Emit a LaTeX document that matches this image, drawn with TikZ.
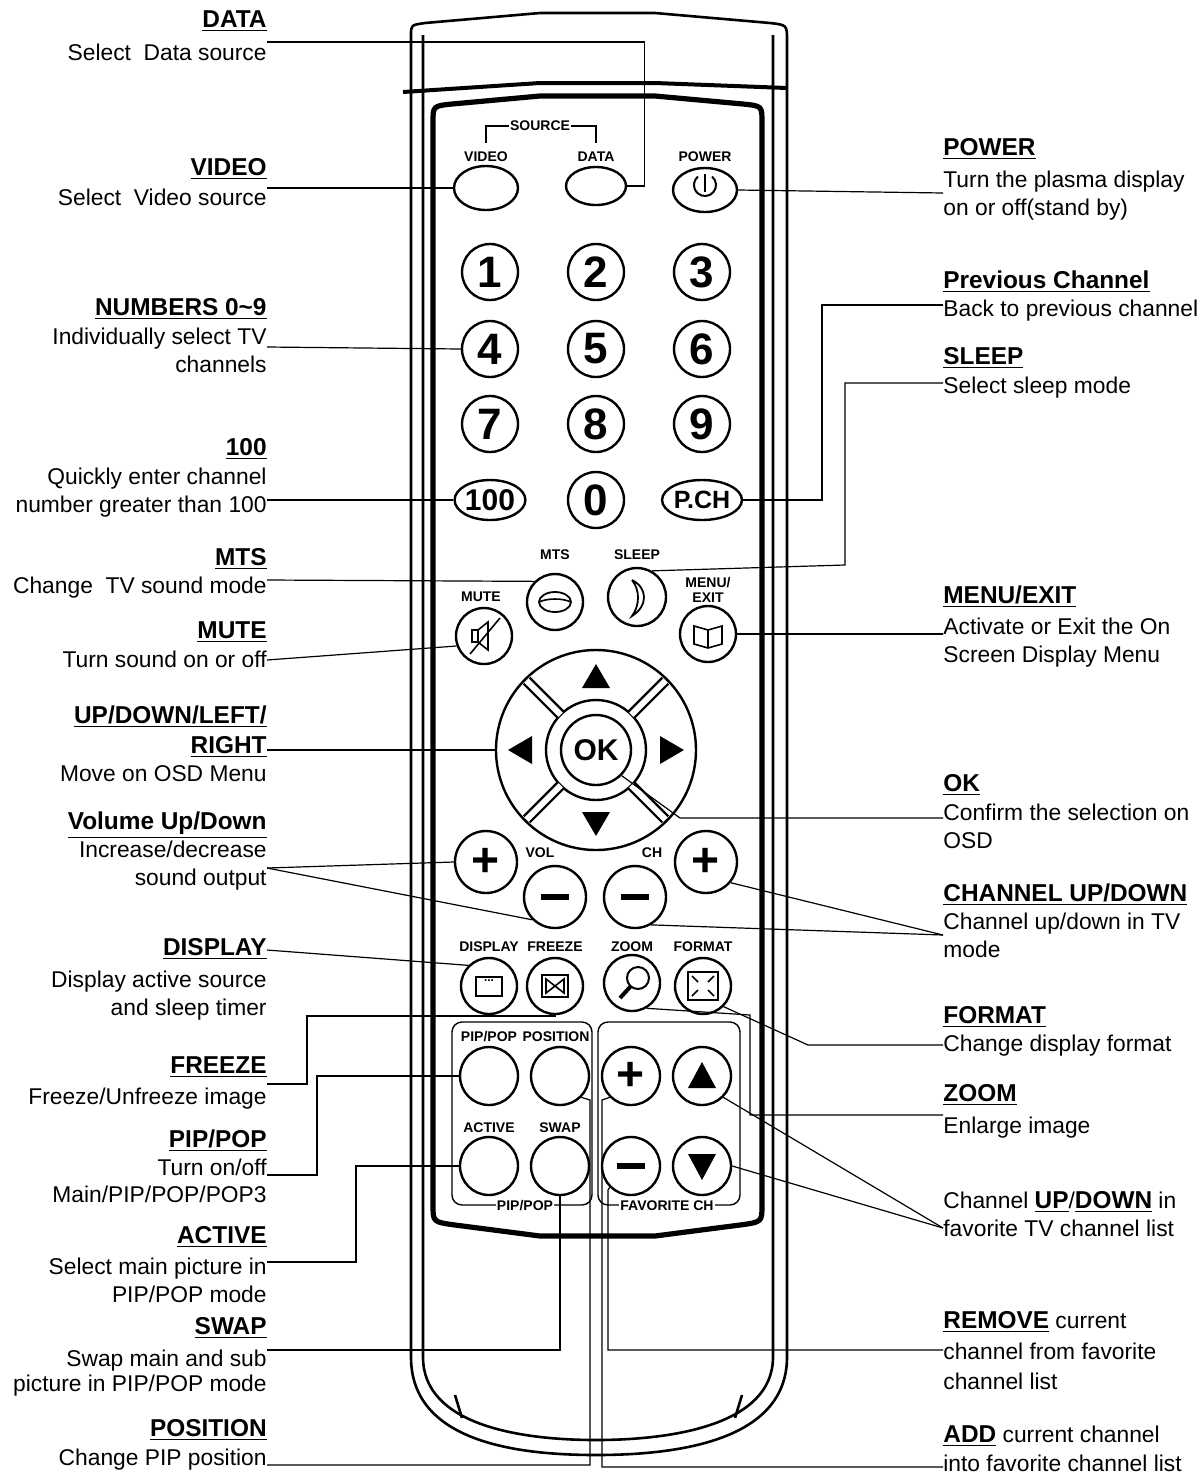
\documentclass[tikz,border=0pt]{standalone}
\usepackage{fontspec}
\setmainfont{Liberation Sans}
\usetikzlibrary{shapes.geometric, calc}

\tikzset{
  lbl/.style = {inner sep = 0pt, font = \fontsize{11.4}{12}\selectfont},
  key/.style = {draw, circle, line width = 1.2pt, minimum size = 28pt, inner sep = 0pt},
  oval/.style = {draw, ellipse, line width = 1.2pt, minimum width = 32pt, minimum height = 22pt, inner sep = 0pt},
  numkey/.style = {key, font = \fontsize{22}{22}\selectfont\bfseries},
  tag/.style = {inner sep = 0.5pt, font = \fontsize{7}{7.5}\selectfont\bfseries, align = center},
  call/.style = {line width = 0.6pt},
  body/.style = {line width = 1.3pt},
}
\newcommand{\ttl}[1]{\underline{\textbf{\fontsize{12.2}{12.5}\selectfont #1}}}
\newcommand{\lt}[3]{\node[lbl, anchor = mid east] (#1) at (267,#2) {#3};}
\newcommand{\rt}[3]{\node[lbl, anchor = mid west] (#1) at (943,#2) {#3};}

\begin{document}
\begin{tikzpicture}[x = 0.5pt, y = -0.5pt]
        \useasboundingbox (0,0) rectangle (1203,1479);

        % remote body
        \draw[body] (411,1357) -- (411,35) .. controls (411,25) .. (425,23) -- (540,13) -- (655,13) -- (770,23) .. controls (787,25) .. (787,40) -- (787,1357) .. controls (787,1440) and (680,1455) .. (596,1455) .. controls (512,1455) and (411,1440) .. (411,1357);
        \draw[body] (423,35) -- (423,1357) .. controls (423,1425) and (520,1440) .. (596,1440) .. controls (672,1440) and (773,1425) .. (773,1357) -- (773,35);
        \draw[line width = 2pt] (403,92) -- (540,83) -- (655,83) -- (787,88);
        \draw[line width = 2.6pt] (433,1205) -- (433,122) .. controls (433,106) .. (452,104) -- (540,96) -- (655,96) -- (743,104) .. controls (762,106) .. (762,122) -- (762,1205) .. controls (762,1222) .. (740,1225) -- (655,1236) -- (540,1236) -- (455,1225) .. controls (433,1222) .. (433,1205) -- cycle;
        \draw[body] (455,1395) -- (462,1418);
        \draw[body] (742,1395) -- (735,1418);

        % source keys
        \node[tag] (srct) at (540,126) {SOURCE};
        \draw[line width = 0.6pt] (srct.west) -| (486,143);
        \draw[line width = 0.6pt] (srct.east) -| (596,143);
        \node[oval] (video) at (486,188) {};
        \node[oval, minimum width = 30pt, minimum height = 19pt] (data) at (596,186) {};
        \node[oval] (power) at (705,190) {};
        \node[tag] at (486,157) {VIDEO};
        \node[tag] at (596,157) {DATA};
        \node[tag] at (705,157) {POWER};
        \draw[line width = 1pt] (705,185) ++(50:5.5pt) arc[start angle = 50, end angle = -230, radius = 5.5pt];
        \draw[line width = 1pt] (705,174) -- (705,192);

        % number keys
        \foreach \d/\x/\y in {1/490/272, 2/596/272, 3/702/272, 4/490/349, 5/596/349, 6/702/349, 7/490/424, 8/596/424, 9/702/424, 0/596/500}
          \node[numkey] (n\d) at (\x,\y) {\d};
        \node[oval, minimum height = 20pt, font = \fontsize{15}{15}\selectfont\bfseries] (hundred) at (490,500) {100};
        \node[oval, minimum height = 20pt, font = \fontsize{12.5}{13}\selectfont\bfseries] (pch) at (702,500) {P.CH};

        % mts, sleep, mute, menu
        \node[key] (mts) at (555,602) {};
        \node[key, minimum size = 29pt] (sleep) at (637,597) {};
        \node[key] (mute) at (484,636) {};
        \node[key] (menu) at (708,634) {};
        \node[tag] at (555,555) {MTS};
        \node[tag] at (637,555) {SLEEP};
        \node[tag] at (481,597) {MUTE};
        \node[tag] at (708,590) {MENU/\\EXIT};
        \draw[line width = 0.9pt] (555,602) ellipse[x radius = 8pt, y radius = 5pt];
        \draw[line width = 0.8pt] (539,602) .. controls (548,598) and (562,598) .. (571,602);
        \draw[line width = 0.9pt] (632,580) .. controls (648,588) and (648,606) .. (632,616) .. controls (640,605) and (640,590) .. (632,580);
        \draw[line width = 0.8pt] (472,630) rectangle (478,642);
        \draw[line width = 0.8pt] (478,630) -- (488,622) -- (488,650) -- (478,642);
        \draw[line width = 0.8pt] (470,654) -- (500,618);
        \draw[line width = 0.8pt] (694,626) -- (708,630) -- (722,626) -- (722,644) -- (708,648) -- (694,644) -- cycle;
        \draw[line width = 0.8pt] (708,630) -- (708,648);

        % direction pad
        \node[key, minimum size = 100pt] (pad) at (596,750) {};
        \draw[line width = 1.2pt] (pad.center) circle[radius = 25pt];
        \foreach \a in {45, 135, 225, 315}
          \draw[line width = 1.2pt, double, double distance = 3pt] (pad.center) ++(\a:25pt) -- ++(\a:24pt);
        \node[key, minimum size = 35pt, font = \fontsize{15}{15}\selectfont\bfseries] (ok) at (596,750) {OK};
        \fill (582,688) -- (610,688) -- (596,664) -- cycle;
        \fill (582,812) -- (610,812) -- (596,836) -- cycle;
        \fill (532,736) -- (532,764) -- (508,750) -- cycle;
        \fill (660,736) -- (660,764) -- (684,750) -- cycle;

        % volume and channel keys
        \node[key, minimum size = 31pt, font = \fontsize{24}{24}\selectfont\bfseries] (volp) at (486,862) {+};
        \node[key, minimum size = 31pt] (volm) at (555,897) {\rule{14pt}{3.2pt}};
        \node[key, minimum size = 31pt] (chm) at (635,897) {\rule{14pt}{3.2pt}};
        \node[key, minimum size = 31pt, font = \fontsize{24}{24}\selectfont\bfseries] (chp) at (706,862) {+};
        \node[tag] at (540,853) {VOL};
        \node[tag] at (652,853) {CH};

        % display row
        \node[key] (disp) at (489,986) {};
        \node[key] (frz) at (555,986) {};
        \node[key] (zoom) at (632,983) {};
        \node[key] (fmt) at (703,986) {};
        \foreach \n/\x in {DISPLAY/489, FREEZE/555, ZOOM/632, FORMAT/703}
          \node[tag] at (\x,947) {\n};
        \draw[line width = 0.8pt] (476,977) rectangle (502,996);
        \node[inner sep = 0pt, font = \fontsize{6}{6}\selectfont\bfseries] at (489,981) {...};
        \draw[line width = 0.8pt] (542,975) rectangle (568,997);
        \draw[line width = 0.8pt] (546,979) -- (555,986) -- (546,993) -- cycle (564,979) -- (555,986) -- (564,993) -- cycle;
        \draw[line width = 1pt] (638,978) circle[radius = 5.5pt];
        \draw[line width = 2pt] (631,986) -- (620,998);
        \draw[line width = 0.8pt] (688,972) rectangle (718,1000);
        \draw[line width = 0.8pt] (692,976) -- (698,982) (714,976) -- (708,982) (692,996) -- (698,990) (714,996) -- (708,990);

        % lower groups
        \draw[line width = 0.7pt, rounded corners = 5pt] (452,1022) rectangle (592,1205);
        \draw[line width = 0.7pt, rounded corners = 5pt] (598,1022) rectangle (740,1205);
        \node[tag, fill = white] at (525,1206) {PIP/POP};
        \node[tag, fill = white] at (667,1206) {FAVORITE CH};
        \node[key, minimum size = 29pt] (pip) at (489,1076) {};
        \node[key, minimum size = 29pt] (pos) at (560,1076) {};
        \node[key, minimum size = 29pt] (act) at (489,1166) {};
        \node[key, minimum size = 29pt] (swap) at (560,1166) {};
        \node[key, minimum size = 29pt, font = \fontsize{24}{24}\selectfont\bfseries] (fadd) at (631,1076) {+};
        \node[key, minimum size = 29pt] (fup) at (702,1076) {};
        \node[key, minimum size = 29pt] (frem) at (631,1166) {\rule{14pt}{3.2pt}};
        \node[key, minimum size = 29pt] (fdn) at (702,1166) {};
        \node[tag] at (489,1037) {PIP/POP};
        \node[tag] at (556,1037) {POSITION};
        \node[tag] at (489,1128) {ACTIVE};
        \node[tag] at (560,1128) {SWAP};
        \fill (688,1088) -- (716,1088) -- (702,1062) -- cycle;
        \fill (688,1154) -- (716,1154) -- (702,1180) -- cycle;

        % left texts
        \lt{t1}{22}{\ttl{DATA}}
        \lt{t2}{55}{Select\ \ Data source}
        \lt{t3}{170}{\ttl{VIDEO}}
        \lt{t4}{200}{Select\ \ Video source}
        \lt{t5}{310}{\ttl{NUMBERS 0\textasciitilde9}}
        \lt{t6}{339}{Individually select TV}
        \lt{t7}{367}{channels}
        \lt{t8}{450}{\ttl{100}}
        \lt{t9}{479}{Quickly enter channel}
        \lt{t10}{507}{number greater than 100}
        \lt{t11}{560}{\ttl{MTS}}
        \lt{t12}{588}{Change\ \ TV sound mode}
        \lt{t13}{633}{\ttl{MUTE}}
        \lt{t14}{662}{Turn sound on or off}
        \lt{t15}{718}{\ttl{UP/DOWN/LEFT/}}
        \lt{t16}{748}{\ttl{RIGHT}}
        \lt{t17}{776}{Move on OSD Menu}
        \lt{t18}{824}{\ttl{Volume Up/Down}}
        \lt{t19}{852}{Increase/decrease}
        \lt{t20}{880}{sound output}
        \lt{t21}{950}{\ttl{DISPLAY}}
        \lt{t22}{982}{Display active source}
        \lt{t23}{1010}{and sleep timer}
        \lt{t24}{1068}{\ttl{FREEZE}}
        \lt{t25}{1099}{Freeze/Unfreeze image}
        \lt{t26}{1142}{\ttl{PIP/POP}}
        \lt{t27}{1170}{Turn on/off}
        \lt{t28}{1197}{Main/PIP/POP/POP3}
        \lt{t29}{1238}{\ttl{ACTIVE}}
        \lt{t30}{1269}{Select main picture in}
        \lt{t31}{1297}{PIP/POP mode}
        \lt{t32}{1329}{\ttl{SWAP}}
        \lt{t33}{1361}{Swap main and sub}
        \lt{t34}{1386}{picture in PIP/POP mode}
        \lt{t35}{1431}{\ttl{POSITION}}
        \lt{t36}{1460}{Change PIP position}

        % right texts
        \rt{r1}{150}{\ttl{POWER}}
        \rt{r2}{182}{Turn the plasma display}
        \rt{r3}{210}{on or off(stand by)}
        \rt{r4}{283}{\ttl{Previous Channel}}
        \rt{r5}{311}{Back to previous channel}
        \rt{r6}{359}{\ttl{SLEEP}}
        \rt{r7}{388}{Select sleep mode}
        \rt{r8}{598}{\ttl{MENU/EXIT}}
        \rt{r9}{629}{Activate or Exit the On}
        \rt{r10}{657}{Screen Display Menu}
        \rt{r11}{786}{\ttl{OK}}
        \rt{r12}{815}{Confirm the selection on}
        \rt{r13}{843}{OSD}
        \rt{r14}{896}{\ttl{CHANNEL UP/DOWN}}
        \rt{r15}{924}{Channel up/down in TV}
        \rt{r16}{952}{mode}
        \rt{r17}{1018}{\ttl{FORMAT}}
        \rt{r18}{1046}{Change display format}
        \rt{r19}{1096}{\ttl{ZOOM}}
        \rt{r20}{1128}{Enlarge image}
        \rt{r21}{1203}{Channel \ttl{UP}/\ttl{DOWN} in}
        \rt{r22}{1231}{favorite TV channel list}
        \rt{r23}{1323}{\ttl{REMOVE} current}
        \rt{r24}{1354}{channel from favorite}
        \rt{r25}{1384}{channel list}
        \rt{r26}{1437}{\ttl{ADD} current channel}
        \rt{r27}{1466}{into favorite channel list}

        % callout ends
        \foreach \n/\y in {cData/42, cVideo/188, cNum/347, cHun/500, cMts/580, cMute/660, cPad/750, cVol/868, cDisp/950, cFrz/1084, cPip/1175, cAct/1262, cSwap/1350, cPos/1465}
          \coordinate (\n) at (267,\y);
        \foreach \n/\y in {cPow/193, cPch/305, cSlp/383, cMenu/634, cOk/818, cCh/935, cFmt/1045, cZoom/1115, cFav/1228, cRem/1350, cAdd/1467}
          \coordinate (\n) at (943,\y);
        \coordinate (bFrz) at (307,1016);
        \coordinate (bPip) at (317,1076);
        \coordinate (bAct) at (356,1166);
        \coordinate (bPos) at (590,1100);
        \coordinate (bPch) at (822,500);
        \coordinate (bSlp) at (845,565);
        \coordinate (bOk) at (680,818);
        \coordinate (bFmt) at (808,1045);
        \coordinate (bZoom) at (750,1015);
        \coordinate (bRem) at (608,1190);
        \coordinate (bAdd) at (602,1100);

        % callouts
        \draw[call] (cData) -| ([xshift = 8.5pt] data.east) -- (data.east);
        \draw[call] (cVideo) -- (video.west);
        \draw[call] (cNum) -- (n4.west);
        \draw[call] (cHun) -- (hundred.west);
        \draw[call] (cMts) -- (mts.north west);
        \draw[call] (cMute) -- (mute.200);
        \draw[call] (cPad) -- (pad.west);
        \draw[call] (cVol) -- (volp.west);
        \draw[call] (cVol) -- (volm.south west);
        \draw[call] (cDisp) -- (disp.north west);
        \draw[call] (cFrz) -| (bFrz) -| (frz.south);
        \draw[call] (cPip) -| (bPip) -- (pip.west);
        \draw[call] (cAct) -| (bAct) -- (act.west);
        \draw[call] (cSwap) -| (swap.south);
        \draw[call] (cPos) -| (bPos) -- (pos.south east);
        \draw[call] (cPow) -- (power.east);
        \draw[call] (cPch) -| (bPch) -- (pch.east);
        \draw[call] (cSlp) -| (bSlp) -- (sleep.60);
        \draw[call] (cMenu) -- (menu.east);
        \draw[call] (cOk) -- (bOk) -- (ok.south east);
        \draw[call] (cCh) -- (chp.-40);
        \draw[call] (cCh) -- (chm.-60);
        \draw[call] (cFmt) -- (bFmt) -- (fmt.south east);
        \draw[call] (cZoom) -| (bZoom) -- (zoom.-60);
        \draw[call] (cFav) -- (fup.south east);
        \draw[call] (cFav) -- (fdn.east);
        \draw[call] (cRem) -| (bRem) -- (frem.south west);
        \draw[call] (cAdd) -| (bAdd) -- (fadd.south west);
\end{tikzpicture}
\end{document}
